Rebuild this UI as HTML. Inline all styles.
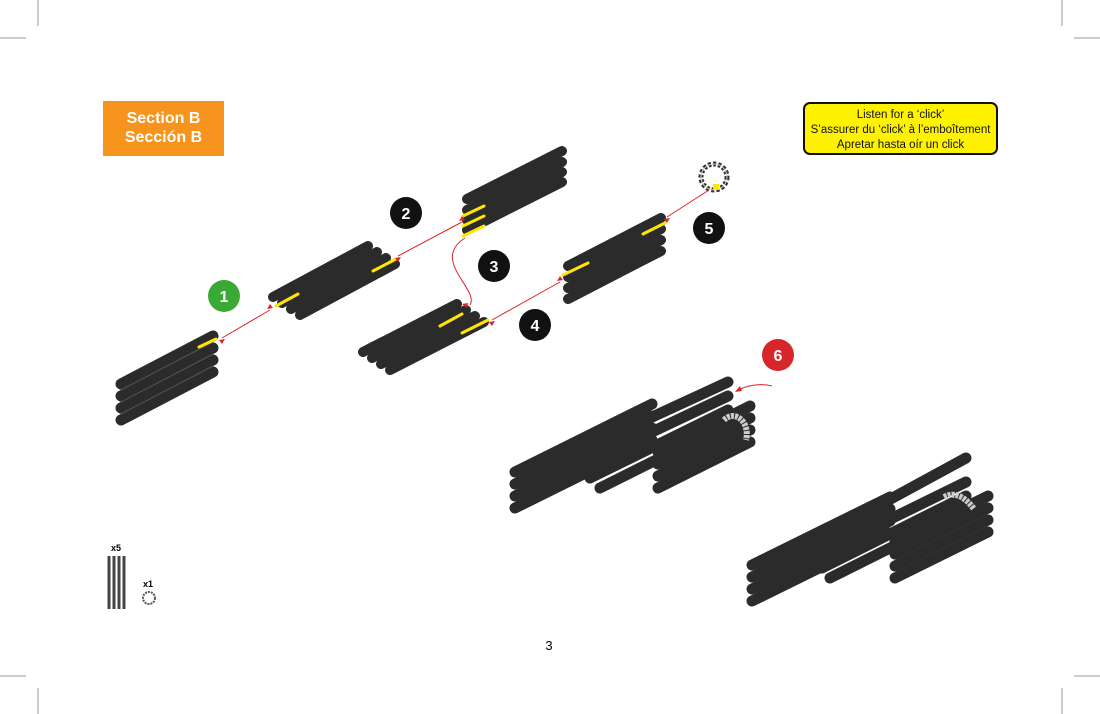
<!DOCTYPE html>
<html><head><meta charset="utf-8"><style>
body{margin:0;background:#fff;width:1100px;height:714px;overflow:hidden;position:relative;font-family:"Liberation Sans",sans-serif}
.sec{position:absolute;left:103px;top:101px;width:121px;height:55px;background:#f7941d;color:#fff;font-weight:bold;font-size:16px;text-align:center;line-height:19px;padding-top:8px;box-sizing:border-box}
.note{position:absolute;left:803px;top:102px;width:195px;height:53px;background:#fff200;border:2px solid #111;border-radius:7px;box-sizing:border-box;font-size:11.5px;text-align:center;line-height:15px;padding-top:4px;color:#111}
</style></head><body>
<svg width="1100" height="714" style="position:absolute;left:0;top:0">
<g stroke="#999" stroke-width="1">
<line x1="38" y1="0" x2="38" y2="26"/><line x1="0" y1="38" x2="26" y2="38"/>
<line x1="1062" y1="0" x2="1062" y2="26"/><line x1="1074" y1="38" x2="1100" y2="38"/>
<line x1="38" y1="688" x2="38" y2="714"/><line x1="0" y1="676" x2="26" y2="676"/>
<line x1="1062" y1="688" x2="1062" y2="714"/><line x1="1074" y1="676" x2="1100" y2="676"/>
</g>
<g stroke-linecap="round" fill="none">
<!-- piece 1 vertical stack -->
<g stroke="#2b2b2b" stroke-width="11">
<line x1="121" y1="420" x2="213" y2="372"/><line x1="121" y1="408" x2="213" y2="360"/><line x1="121" y1="396" x2="213" y2="348"/><line x1="121" y1="384" x2="213" y2="336"/>
</g>
<g stroke="#555" stroke-width="1"><line x1="121" y1="390" x2="213" y2="342"/><line x1="121" y1="402" x2="213" y2="354"/><line x1="121" y1="414" x2="213" y2="366"/></g>
<line x1="199" y1="347" x2="216" y2="339" stroke="#ffe600" stroke-width="3"/>
<!-- piece 2 flat -->
<g stroke="#2b2b2b" stroke-width="10">
<line x1="300" y1="315" x2="395" y2="264"/><line x1="291" y1="309" x2="386" y2="258"/><line x1="282" y1="303" x2="377" y2="252"/><line x1="273" y1="297" x2="368" y2="246"/>
</g>
<line x1="276" y1="306" x2="298" y2="294" stroke="#ffe600" stroke-width="3"/>
<line x1="373" y1="271" x2="396" y2="259" stroke="#ffe600" stroke-width="3"/>
<!-- piece top stack -->
<g stroke="#2b2b2b" stroke-width="10">
<line x1="467" y1="230" x2="562" y2="182"/><line x1="467" y1="220" x2="562" y2="172"/><line x1="467" y1="210" x2="562" y2="162"/><line x1="467" y1="199" x2="562" y2="151"/>
</g>
<g stroke="#ffe600" stroke-width="3"><line x1="463" y1="216" x2="484" y2="206"/><line x1="463" y1="226" x2="484" y2="216"/><line x1="463" y1="236" x2="484" y2="226"/></g>
<!-- piece step3 flat -->
<g stroke="#2b2b2b" stroke-width="10">
<line x1="390" y1="370" x2="484" y2="322"/><line x1="381" y1="364" x2="475" y2="316"/><line x1="372" y1="358" x2="466" y2="310"/><line x1="363" y1="352" x2="457" y2="304"/>
</g>
<line x1="440" y1="326" x2="462" y2="314" stroke="#ffe600" stroke-width="3"/>
<line x1="462" y1="333" x2="488" y2="320" stroke="#ffe600" stroke-width="3"/>
<!-- piece step4 stack -->
<g stroke="#2b2b2b" stroke-width="10">
<line x1="568" y1="299" x2="661" y2="251"/><line x1="568" y1="288" x2="661" y2="240"/><line x1="568" y1="277" x2="661" y2="229"/><line x1="568" y1="266" x2="661" y2="218"/>
</g>
<line x1="563" y1="275" x2="588" y2="263" stroke="#ffe600" stroke-width="3"/>
<line x1="643" y1="234" x2="665" y2="223" stroke="#ffe600" stroke-width="3"/>
<!-- assembly 1 -->
<g stroke="#2b2b2b" stroke-width="11">
<line x1="515" y1="508" x2="652" y2="440"/><line x1="515" y1="496" x2="652" y2="428"/><line x1="515" y1="484" x2="652" y2="416"/><line x1="515" y1="472" x2="652" y2="404"/>
<line x1="600" y1="488" x2="728" y2="424"/><line x1="590" y1="478" x2="728" y2="410"/><line x1="580" y1="466" x2="728" y2="396"/><line x1="570" y1="455" x2="728" y2="382"/>
<line x1="658" y1="488" x2="750" y2="442"/><line x1="658" y1="476" x2="750" y2="430"/><line x1="658" y1="464" x2="750" y2="418"/><line x1="658" y1="452" x2="750" y2="406"/>
</g>
<!-- assembly 2 -->
<g stroke="#2b2b2b" stroke-width="11">
<line x1="752" y1="601" x2="890" y2="533"/><line x1="752" y1="589" x2="890" y2="521"/><line x1="752" y1="577" x2="890" y2="509"/><line x1="752" y1="565" x2="890" y2="497"/>
<line x1="830" y1="578" x2="966" y2="510"/><line x1="822" y1="568" x2="966" y2="496"/><line x1="815" y1="556" x2="966" y2="482"/><line x1="808" y1="544" x2="966" y2="458"/>
<line x1="895" y1="578" x2="988" y2="532"/><line x1="895" y1="566" x2="988" y2="520"/><line x1="895" y1="554" x2="988" y2="508"/><line x1="895" y1="542" x2="988" y2="496"/>
</g>
</g>
<!-- rings -->
<circle cx="714" cy="177" r="13" fill="none" stroke="#333" stroke-width="5" stroke-dasharray="3 2"/>
<circle cx="714" cy="177" r="13" fill="none" stroke="#ccc" stroke-width="1"/>
<rect x="713" y="184" width="6" height="6" fill="#ffe600"/>
<path d="M724 420 a14 18 0 0 1 22 20" fill="none" stroke="#ccc" stroke-width="6" stroke-dasharray="3 1"/>
<path d="M944 497 q15 -8 30 12" fill="none" stroke="#ccc" stroke-width="6" stroke-dasharray="3 1"/>
<!-- arrows -->
<g stroke="#e0242a" stroke-width="1" fill="none">
<line x1="222" y1="338" x2="270" y2="310"/>
<line x1="398" y1="256" x2="462" y2="222"/>
<path d="M465 238 C430 260 480 290 470 305"/>
<line x1="492" y1="320" x2="560" y2="282"/>
<line x1="667" y1="217" x2="709" y2="190"/>
<path d="M772 386 Q755 382 738 390"/>
</g>
<g fill="#e0242a">
<path d="M219 340 l6 -1 -3 5z"/><path d="M273 308 l-6 1 3 -5z"/>
<path d="M395 258 l6 -1 -3 5z"/><path d="M465 220 l-6 1 3 -5z"/>
<path d="M467 308 l-5 -4 6 -1z"/>
<path d="M489 322 l6 -1 -3 5z"/><path d="M563 280 l-6 1 3 -5z"/>
<path d="M664 219 l6 -1 -3 5z"/>
<path d="M735 392 l5 -6 2 5z"/>
</g>
<!-- numbered circles -->
<circle cx="224" cy="296" r="16" fill="#3aaa35"/><text x="224" y="302" fill="#fff" font-size="16" font-weight="bold" text-anchor="middle">1</text>
<circle cx="406" cy="213" r="16" fill="#111"/><text x="406" y="219" fill="#fff" font-size="16" font-weight="bold" text-anchor="middle">2</text>
<circle cx="494" cy="266" r="16" fill="#111"/><text x="494" y="272" fill="#fff" font-size="16" font-weight="bold" text-anchor="middle">3</text>
<circle cx="535" cy="325" r="16" fill="#111"/><text x="535" y="331" fill="#fff" font-size="16" font-weight="bold" text-anchor="middle">4</text>
<circle cx="709" cy="228" r="16" fill="#111"/><text x="709" y="234" fill="#fff" font-size="16" font-weight="bold" text-anchor="middle">5</text>
<circle cx="778" cy="355" r="16" fill="#d7262b"/><text x="778" y="361" fill="#fff" font-size="16" font-weight="bold" text-anchor="middle">6</text>
<!-- inventory -->
<text x="116" y="551" font-size="9" font-weight="bold" text-anchor="middle">x5</text>
<g stroke="#444" stroke-width="3"><line x1="109" y1="556" x2="109" y2="609"/><line x1="114" y1="556" x2="114" y2="609"/><line x1="119" y1="556" x2="119" y2="609"/><line x1="124" y1="556" x2="124" y2="609"/></g>
<text x="148" y="587" font-size="9" font-weight="bold" text-anchor="middle">x1</text>
<circle cx="149" cy="598" r="6" fill="none" stroke="#555" stroke-width="2" stroke-dasharray="2 1"/>
<text x="549" y="650" font-size="13" text-anchor="middle">3</text>
</svg>
<div class="sec">Section B<br>Sección B</div>
<div class="note">Listen for a ‘click’<br>S’assurer du ‘click’ à l’emboîtement<br>Apretar hasta oír un click</div>
</body></html>
